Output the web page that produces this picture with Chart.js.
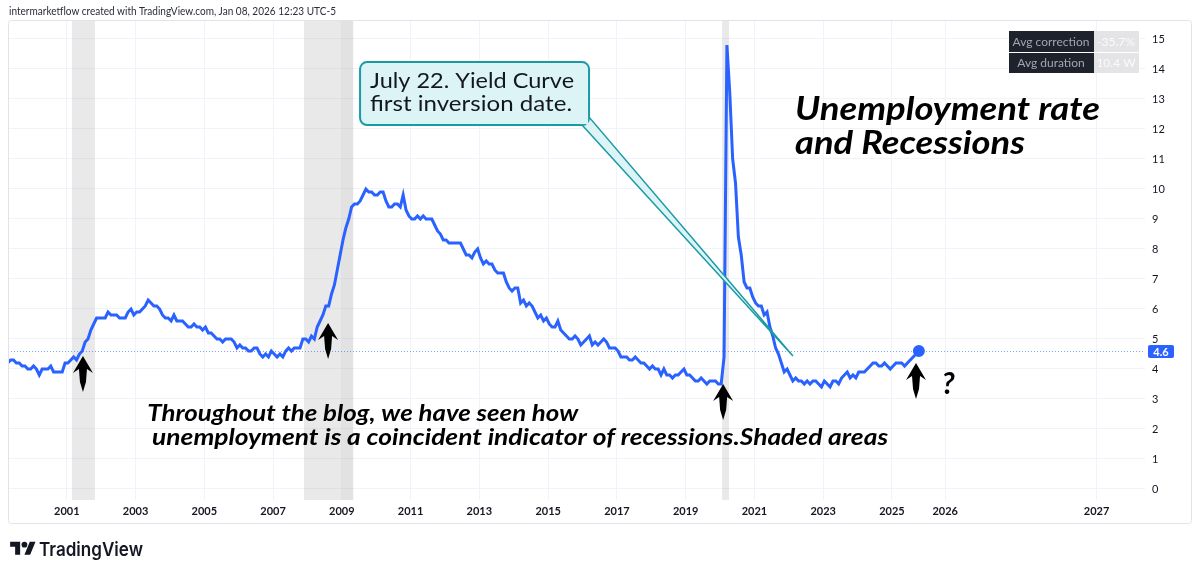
<!DOCTYPE html>
<html>
<head>
<meta charset="utf-8">
<script src="https://cdn.jsdelivr.net/npm/chart.js@4.4.1/dist/chart.umd.min.js"></script>
<style>
  html, body { margin: 0; padding: 0; background: #fff; }
  #wrap { position: relative; width: 1200px; height: 573px; overflow: hidden; }
  #c { position: absolute; left: 0; top: 0; }
  #hdr { position: absolute; left: 9px; top: 3px; font: 12px Lato, sans-serif; color: #2a2e39; white-space: nowrap; transform-origin: 0 0; }
  #logo { position: absolute; left: 10px; top: 539px; height: 20px; display: flex; align-items: center; }
  #logo span { font: 600 19px Inter, sans-serif; color: #131722; margin-left: 3px; white-space: nowrap; transform-origin: 0 50%; display: inline-block; }
</style>
</head>
<body>
<div id="wrap">
  <canvas id="c" width="1200" height="573"></canvas>
  <div id="hdr">intermarketflow created with TradingView.com, Jan 08, 2026 12:23 UTC-5</div>
  <div id="logo">
    <svg width="26" height="20" viewBox="0 0 36 28"><path d="M14 22H7V11H0V4h14v18z" fill="#131722"/><circle cx="20" cy="8" r="4" fill="#131722"/><path d="M28 22h-8l7.5-18h8L28 22z" fill="#131722"/></svg>
    <span id="logoText">TradingView</span>
  </div>
</div>
<script>
// monthly US unemployment rate, May 1999 .. Nov 2025 (Oct 2025 not published)
const startYear = 1999;
const startMonth = 5;
const unrate = [
  4.2, 4.3, 4.3, 4.2, 4.2, 4.1, 4.1, 4.0,
  4.0, 4.1, 4.0, 3.8, 4.0, 4.0, 4.0, 4.1, 3.9, 3.9, 3.9, 3.9,
  4.2, 4.2, 4.3, 4.4, 4.3, 4.5, 4.6, 4.9, 5.0, 5.3, 5.5, 5.7,
  5.7, 5.7, 5.7, 5.9, 5.8, 5.8, 5.8, 5.7, 5.7, 5.7, 5.9, 6.0,
  5.8, 5.9, 5.9, 6.0, 6.1, 6.3, 6.2, 6.1, 6.1, 6.0, 5.8, 5.7,
  5.7, 5.6, 5.8, 5.6, 5.6, 5.6, 5.5, 5.4, 5.4, 5.5, 5.4, 5.4,
  5.3, 5.4, 5.2, 5.2, 5.1, 5.0, 5.0, 4.9, 5.0, 5.0, 5.0, 4.9,
  4.7, 4.8, 4.7, 4.7, 4.6, 4.6, 4.7, 4.7, 4.5, 4.4, 4.5, 4.4,
  4.6, 4.5, 4.4, 4.5, 4.4, 4.6, 4.7, 4.6, 4.7, 4.7, 4.7, 5.0,
  5.0, 4.9, 5.1, 5.0, 5.4, 5.6, 5.8, 6.1, 6.1, 6.5, 6.8, 7.3,
  7.8, 8.3, 8.7, 9.0, 9.4, 9.5, 9.5, 9.6, 9.8, 10.0, 9.9, 9.9,
  9.8, 9.8, 9.9, 9.9, 9.6, 9.4, 9.4, 9.5, 9.5, 9.4, 9.8, 9.3,
  9.1, 9.0, 9.0, 9.1, 9.0, 9.1, 9.0, 9.0, 9.0, 8.8, 8.6, 8.5,
  8.3, 8.3, 8.2, 8.2, 8.2, 8.2, 8.2, 8.0, 7.8, 7.8, 7.7, 7.9,
  8.0, 7.7, 7.5, 7.6, 7.5, 7.5, 7.3, 7.2, 7.2, 7.2, 6.9, 6.7,
  6.6, 6.7, 6.7, 6.2, 6.3, 6.1, 6.2, 6.1, 5.9, 5.7, 5.8, 5.6,
  5.7, 5.5, 5.4, 5.4, 5.6, 5.3, 5.2, 5.1, 5.0, 5.0, 5.1, 5.0,
  4.8, 4.9, 5.0, 5.1, 4.8, 4.9, 4.8, 4.9, 5.0, 4.9, 4.7, 4.7,
  4.7, 4.6, 4.4, 4.4, 4.4, 4.3, 4.3, 4.4, 4.3, 4.2, 4.2, 4.1,
  4.0, 4.1, 4.0, 4.0, 3.8, 4.0, 3.8, 3.8, 3.7, 3.8, 3.8, 3.9,
  4.0, 3.8, 3.8, 3.7, 3.6, 3.6, 3.7, 3.6, 3.5, 3.6, 3.6, 3.6,
  3.5, 3.5, 4.4, 14.8, 13.2, 11.0, 10.2, 8.4, 7.8, 6.9, 6.7, 6.7,
  6.4, 6.2, 6.1, 6.1, 5.8, 5.9, 5.4, 5.1, 4.7, 4.5, 4.2, 3.9,
  4.0, 3.8, 3.6, 3.7, 3.6, 3.6, 3.5, 3.6, 3.5, 3.6, 3.6, 3.5,
  3.4, 3.6, 3.5, 3.4, 3.6, 3.6, 3.5, 3.7, 3.8, 3.9, 3.7, 3.8,
  3.7, 3.9, 3.9, 3.9, 4.0, 4.1, 4.2, 4.2, 4.1, 4.1, 4.2, 4.1,
  4.0, 4.1, 4.2, 4.2, 4.2, 4.1, 4.2, 4.3, 4.4, null, 4.6
];
const lastValue = 4.6;

// shaded recession drawings (decimal years)
const recessions = [[2001.2, 2001.87], [2007.95, 2009.38], [2020.11, 2020.31]];
// second drawing over the end of the 2008-09 band
const recessionOverlap = [[2009.06, 2009.38]];

const xTickValues = [2001.05, 2003.05, 2005.05, 2007.05, 2009.05, 2011.05, 2013.05, 2015.05, 2017.05, 2019.05, 2021.05, 2023.05, 2025.05, 2026.6, 2031.0];
const xTickLabels = ['2001', '2003', '2005', '2007', '2009', '2011', '2013', '2015', '2017', '2019', '2021', '2023', '2025', '2026', '2027'];
const yTickValues = [0, 1, 2, 3, 4, 5, 6, 7, 8, 9, 10, 11, 12, 13, 14, 15];

// arrows: [year, value at arrow tip]
const arrows = [[2001.52, 4.43], [2008.65, 5.53], [2020.14, 3.5], [2025.75, 4.2]];

const points = unrate.map((v, i) => ({ x: startYear + (startMonth - 1 + i) / 12, y: v }));
const blue = '#2962ff';

function fitText(ctx, text, x, y, width) {
  const w = ctx.measureText(text).width;
  ctx.save();
  ctx.translate(x, y);
  ctx.scale(width / w, 1);
  ctx.fillText(text, 0, 0);
  ctx.restore();
}

function roundRect(ctx, x, y, w, h, r) {
  ctx.beginPath();
  ctx.moveTo(x + r, y);
  ctx.arcTo(x + w, y, x + w, y + h, r);
  ctx.arcTo(x + w, y + h, x, y + h, r);
  ctx.arcTo(x, y + h, x, y, r);
  ctx.arcTo(x, y, x + w, y, r);
  ctx.closePath();
}

const deco = {
  id: 'deco',
  beforeDatasetsDraw(chart) {
    const { ctx, chartArea: a, scales: { x, y } } = chart;
    ctx.save();
    ctx.beginPath();
    ctx.rect(a.left, a.top, a.right - a.left, a.bottom - a.top);
    ctx.clip();
    const band = ([s, e]) => {
      const x0 = x.getPixelForValue(s), x1 = x.getPixelForValue(e);
      ctx.fillRect(x0, a.top, x1 - x0, a.bottom - a.top);
    };
    ctx.fillStyle = 'rgba(120,120,120,0.16)';
    recessions.forEach(band);
    ctx.fillStyle = 'rgba(120,120,120,0.06)';
    recessionOverlap.forEach(band);
    // last value price line
    const py = Math.round(y.getPixelForValue(lastValue)) + 0.5;
    ctx.strokeStyle = 'rgba(41,98,255,0.6)';
    ctx.lineWidth = 1;
    ctx.setLineDash([1, 2]);
    ctx.beginPath();
    ctx.moveTo(a.left, py);
    ctx.lineTo(a.right, py);
    ctx.stroke();
    ctx.restore();
  },
  afterDatasetsDraw(chart) {
    const { ctx, scales: { x, y } } = chart;
    const X = v => x.getPixelForValue(v), Y = v => y.getPixelForValue(v);
    ctx.save();

    // callout
    const bx = X(2009.58), by = Y(14.23), bw = X(2016.24) - bx, bh = Y(12.13) - by;
    const tipX = X(2022.17), tipY = Y(4.43);
    ctx.fillStyle = '#dcf4f6';
    ctx.strokeStyle = '#1a9aa5';
    ctx.lineWidth = 1.5;
    ctx.beginPath();
    ctx.moveTo(bx + bw - 7, by + bh);
    ctx.lineTo(tipX, tipY);
    ctx.lineTo(bx + bw, by + bh - 8);
    ctx.closePath();
    ctx.fill();
    ctx.stroke();
    roundRect(ctx, bx, by, bw, bh, 7);
    ctx.lineWidth = 2;
    ctx.fill();
    ctx.stroke();
    ctx.fillStyle = '#dcf4f6';
    ctx.fillRect(bx + bw - 9, by + bh - 10, 8, 9);
    ctx.fillStyle = '#131722';
    ctx.font = '22px Lato, sans-serif';
    ctx.textBaseline = 'alphabetic';
    fitText(ctx, 'July 22. Yield Curve', bx + 10, by + 26, 204);
    fitText(ctx, 'first inversion date.', bx + 10, by + 49, 202);

    // title
    ctx.fillStyle = '#000';
    ctx.font = 'italic bold 32px Lato, sans-serif';
    fitText(ctx, 'Unemployment rate', X(2022.23), Y(12.3), 305);
    fitText(ctx, 'and Recessions', X(2022.23), Y(11.17), 230);

    // comment
    ctx.font = 'italic bold 22px Lato, sans-serif';
    fitText(ctx, 'Throughout the blog, we have seen how', X(2003.39), Y(2.27), 431);
    fitText(ctx, 'unemployment is a coincident indicator of recessions.Shaded areas', X(2003.53), Y(1.47), 736);
    ctx.font = 'italic bold 30px Lato, sans-serif';
    ctx.fillText('?', X(2026.5), Y(3.17));

    // arrows
    ctx.fillStyle = '#000';
    arrows.forEach(([ax, av]) => {
      const px = X(ax), py = Y(av);
      ctx.beginPath();
      ctx.moveTo(px, py);
      ctx.lineTo(px + 10, py + 17);
      ctx.lineTo(px + 4, py + 13);
      ctx.lineTo(px + 3, py + 26);
      ctx.lineTo(px, py + 36);
      ctx.lineTo(px - 3, py + 26);
      ctx.lineTo(px - 4, py + 13);
      ctx.lineTo(px - 10, py + 17);
      ctx.closePath();
      ctx.fill();
    });
    ctx.restore();
  },
  afterDraw(chart) {
    const { ctx, chartArea: a, scales: { y } } = chart;
    ctx.save();
    // last value label on the price axis
    const py = Math.round(y.getPixelForValue(lastValue));
    ctx.fillStyle = blue;
    roundRect(ctx, a.right + 3, py - 6, 26, 13, 2);
    ctx.fill();
    ctx.fillStyle = '#fff';
    ctx.font = 'bold 11px Lato, sans-serif';
    ctx.textBaseline = 'middle';
    ctx.textAlign = 'center';
    ctx.fillText(lastValue.toFixed(1), a.right + 16, py + 1);

    // stats table
    ctx.fillStyle = '#1e222d';
    ctx.fillRect(1009, 31, 85, 21);
    ctx.fillRect(1009, 53, 85, 20);
    ctx.fillStyle = '#e4e4e6';
    ctx.fillRect(1094, 31, 45, 21);
    ctx.fillRect(1094, 53, 45, 20);
    ctx.font = '12px Lato, sans-serif';
    ctx.fillStyle = '#a3a6af';
    ctx.fillText('Avg correction', 1051, 42);
    ctx.fillText('Avg duration', 1051, 63);
    ctx.fillStyle = '#fafafa';
    ctx.fillText('-35.7%', 1116, 42);
    ctx.fillText('10.4 W', 1116, 63);

    // frame
    ctx.strokeStyle = '#e0e3eb';
    ctx.lineWidth = 1;
    roundRect(ctx, 8.5, 20.5, 1183, 503, 3);
    ctx.stroke();
    ctx.restore();
  }
};

new Chart(document.getElementById('c'), {
  type: 'line',
  data: {
    datasets: [{
      data: points,
      borderColor: blue,
      backgroundColor: blue,
      borderWidth: 3,
      tension: 0,
      spanGaps: true,
      pointRadius: ctx => (ctx.dataIndex === points.length - 1 ? 4.5 : 0),
      pointHoverRadius: 0
    }]
  },
  options: {
    responsive: false,
    animation: false,
    events: [],
    layout: { padding: { left: 8, right: 8, top: 20, bottom: 49 } },
    plugins: { legend: { display: false }, tooltip: { enabled: false } },
    scales: {
      x: {
        type: 'linear',
        min: 1999.34,
        max: 2032.41,
        border: { display: false },
        grid: { color: '#f0f3fa', drawTicks: false },
        afterBuildTicks: axis => { axis.ticks = xTickValues.map(v => ({ value: v })); },
        afterFit: axis => { axis.height = 24; },
        ticks: {
          autoSkip: false,
          maxRotation: 0,
          padding: 5,
          color: '#131722',
          font: { family: 'Lato', size: 11, weight: 'bold' },
          callback: (v, i) => xTickLabels[i]
        }
      },
      y: {
        position: 'right',
        min: -0.367,
        max: 15.633,
        border: { display: false },
        grid: { color: '#f0f3fa', drawTicks: false },
        afterBuildTicks: axis => { axis.ticks = yTickValues.map(v => ({ value: v })); },
        afterFit: axis => { axis.width = 47; },
        ticks: {
          padding: 7,
          color: '#131722',
          font: { family: 'Lato', size: 11 },
          callback: v => String(v)
        }
      }
    }
  },
  plugins: [deco]
});

// squeeze header / logo text to the original widths
function fitEl(el, width) {
  const w = el.getBoundingClientRect().width;
  el.style.transform = 'scaleX(' + (width / w) + ')';
}
fitEl(document.getElementById('hdr'), 327);
fitEl(document.getElementById('logoText'), 104);
</script>
</body>
</html>
